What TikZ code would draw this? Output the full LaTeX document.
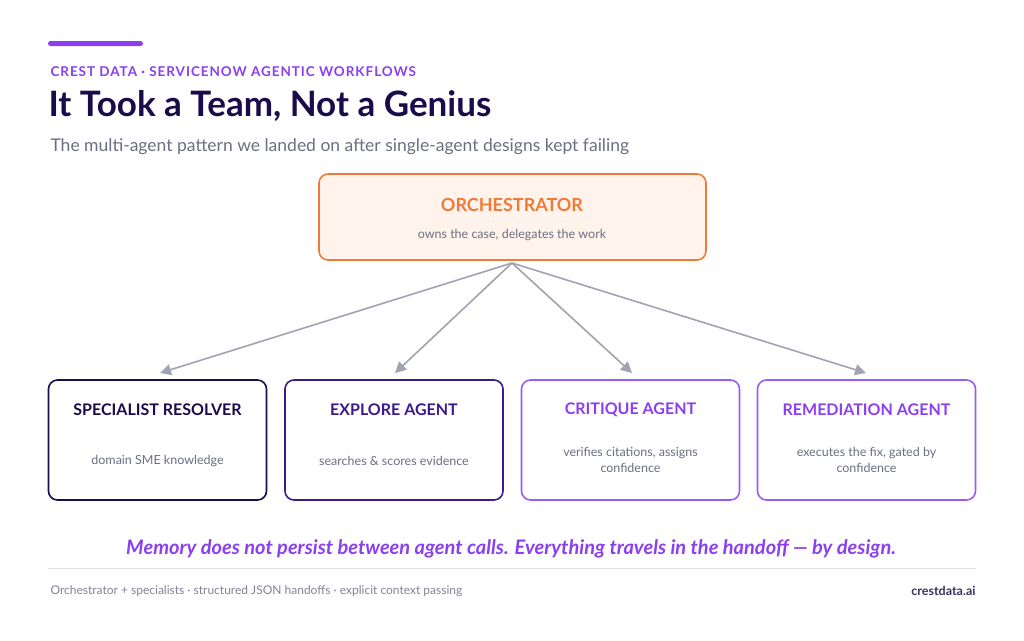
\documentclass[tikz,border=0pt]{standalone}
\usepackage{fontspec}
\setmainfont{Lato}
\usetikzlibrary{arrows.meta}
\definecolor{navy}{HTML}{1A0B4A}
\definecolor{violet}{HTML}{8B3FF0}
\definecolor{deepviolet}{HTML}{3B1A8F}
\definecolor{greytext}{HTML}{6B6F80}
\definecolor{orangeline}{HTML}{F07A3A}
\definecolor{orangefill}{HTML}{FFF3EC}
\definecolor{arrowgrey}{HTML}{A0A4B0}
\tikzstyle{agent} = [draw, line width=1.6pt, rounded corners=9pt, fill=white, minimum width=218pt, minimum height=120pt]
\tikzstyle{head} = [font=\fontsize{16}{18}\selectfont\bfseries]
\tikzstyle{desc} = [font=\fontsize{12.5}{16.5}\selectfont, text=greytext, align=center]
\tikzstyle{link} = [draw=arrowgrey, line width=1.6pt, -{Triangle[length=11pt, width=11pt]}]

\begin{document}
\begin{tikzpicture}[x=1pt, y=-1pt]
    \useasboundingbox[fill=white] (0,0) rectangle (1024,640);
    % Header
    \fill[violet, rounded corners=2.5pt] (48,41) rectangle (143,46);
    \node[anchor=west, text=violet, font=\fontsize{13.5}{15}\selectfont\bfseries\addfontfeatures{LetterSpace=7}] (kicker) at (47,72) {CREST DATA · SERVICENOW AGENTIC WORKFLOWS};
    \node[anchor=west, text=navy, font=\fontsize{35}{40}\selectfont\bfseries] (title) at (45,106) {It Took a Team, Not a Genius};
    \node[anchor=west, text=greytext, font=\fontsize{17.5}{20}\selectfont] (sub) at (47,147) {The multi-agent pattern we landed on after single-agent designs kept failing};
    % Orchestrator
    \node[draw=orangeline, fill=orangefill, line width=1.6pt, rounded corners=9pt, minimum width=387pt, minimum height=86pt] (orch) at (512.5,217) {};
    \node[head, text=orangeline, font=\fontsize{18}{20}\selectfont\bfseries] (orcht) at (512,205) {ORCHESTRATOR};
    \node[desc] (orchd) at (512,235) {owns the case, delegates the work};
    \coordinate (hub) at (512,263);
    % Agents
    \node[agent, draw=navy] (res) at (157.5,440) {};
    \node[agent, draw=deepviolet] (exp) at (394,440) {};
    \node[agent, draw=violet!85] (cri) at (630.5,440) {};
    \node[agent, draw=violet!85] (rem) at (866.5,440) {};
    \node[head, text=navy] at (157.5,410) {SPECIALIST RESOLVER};
    \node[head, text=deepviolet] at (394,410) {EXPLORE AGENT};
    \node[head, text=violet] at (630.5,410) {CRITIQUE AGENT};
    \node[head, text=violet] at (866.5,410) {REMEDIATION AGENT};
    \node[desc] at (157.5,461) {domain SME knowledge};
    \node[desc] at (394,461) {searches \& scores evidence};
    \node[desc] at (630.5,460) {verifies citations, assigns\\confidence};
    \node[desc] at (866.5,460) {executes the fix, gated by\\confidence};
    % Edges
    \foreach \n/\x in {res/160, exp/395, cri/632, rem/866} {
      \coordinate (t\n) at (\x,373);
      \draw[link] (hub) -- (t\n);
    }
    % Footer
    \node[text=violet, font=\fontsize{20}{22}\selectfont\bfseries\itshape] (memo) at (511,549) {Memory does not persist between agent calls. Everything travels in the handoff — by design.};
    \draw[black!12, line width=0.8pt] (48,568) -- (976,568);
    \node[anchor=west, text=greytext!85, font=\fontsize{12}{14}\selectfont] (foot) at (47,591) {Orchestrator + specialists · structured JSON handoffs · explicit context passing};
    \node[anchor=east, text=navy!85, font=\fontsize{12.5}{14}\selectfont\bfseries] (brand) at (979,591) {crestdata.ai};
\end{tikzpicture}
\end{document}
